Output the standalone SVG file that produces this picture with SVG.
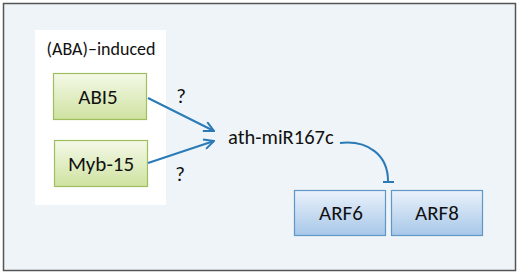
<svg xmlns="http://www.w3.org/2000/svg" width="520" height="274" viewBox="0 0 520 274">
<defs>
<linearGradient id="gg" x1="0" y1="0" x2="0" y2="1"><stop offset="0" stop-color="#f4f9e8"/><stop offset="1" stop-color="#cfe2a0"/></linearGradient>
<linearGradient id="bg" x1="0" y1="0" x2="0" y2="1"><stop offset="0" stop-color="#eaf2fb"/><stop offset="1" stop-color="#a7c7e8"/></linearGradient>
<marker id="ar" viewBox="0 0 12 12" refX="11" refY="6" markerWidth="12" markerHeight="12" markerUnits="userSpaceOnUse" orient="auto"><path d="M1,1 L11,6 L1,11" fill="none" stroke="#2a7ab8" stroke-width="2"/></marker>
</defs>
<style>
text{font-family:Carlito,Calibri,"Liberation Sans",sans-serif;fill:#111;}
.g{fill:url(#gg);stroke:#9fbf5f;stroke-width:1.2;}
.b{fill:url(#bg);stroke:#5e97c8;stroke-width:1.2;}
.c{fill:none;stroke:#2a7ab8;stroke-width:2;}
.l{font-size:21px;text-anchor:middle;}
</style>
<rect x="3.5" y="3.5" width="512" height="267" fill="#eef4f7" stroke="#555" stroke-width="1.5"/>
<rect x="35" y="30" width="131" height="175" fill="#fff"/>
<text x="101" y="55" font-size="18" text-anchor="middle">(ABA)–induced</text>
<g id="abi5"><rect class="g" x="53.5" y="73.5" width="93" height="46"/><text class="l" x="98" y="104">ABI5</text></g>
<g id="myb15"><rect class="g" x="54.5" y="140.5" width="93" height="46"/><text class="l" x="101" y="171">Myb-15</text></g>
<g id="mir"><text x="228" y="144" font-size="20.5">ath-miR167c</text></g>
<g id="arf6"><rect class="b" x="294.5" y="190.5" width="91" height="45"/><text class="l" x="341" y="220" font-size="20">ARF6</text></g>
<g id="arf8"><rect class="b" x="391.5" y="190.5" width="91" height="45"/><text class="l" x="437" y="220" font-size="20">ARF8</text></g>
<g id="connectors">
<path class="c" d="M148,98 L214,131" marker-end="url(#ar)"/>
<path class="c" d="M148,163 L214,141" marker-end="url(#ar)"/>
<path class="c" d="M340,143 C368,140 388,155 388,181"/>
<path class="c" d="M383,182 L394,182"/>
</g>
<text x="181" y="103" font-size="21" text-anchor="middle">?</text>
<text x="180" y="181" font-size="21" text-anchor="middle">?</text>
</svg>
